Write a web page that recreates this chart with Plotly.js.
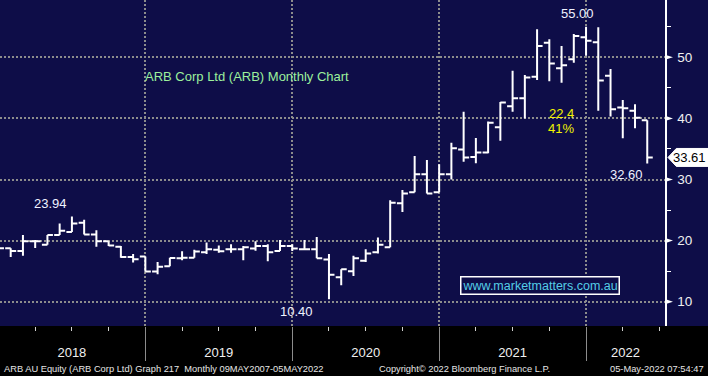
<!DOCTYPE html>
<html><head><meta charset="utf-8">
<script src="https://cdn.plot.ly/plotly-3.0.1.min.js"></script>
<style>html,body{margin:0;padding:0;background:#000;}#chart{width:708px;height:376px;}</style>
</head><body><div id="chart"></div>
<script>
// Monthly bars, Dec 2017 .. May 2022
const months = ['2017-12',
  '2018-01','2018-02','2018-03','2018-04','2018-05','2018-06','2018-07','2018-08','2018-09','2018-10','2018-11','2018-12',
  '2019-01','2019-02','2019-03','2019-04','2019-05','2019-06','2019-07','2019-08','2019-09','2019-10','2019-11','2019-12',
  '2020-01','2020-02','2020-03','2020-04','2020-05','2020-06','2020-07','2020-08','2020-09','2020-10','2020-11','2020-12',
  '2021-01','2021-02','2021-03','2021-04','2021-05','2021-06','2021-07','2021-08','2021-09','2021-10','2021-11','2021-12',
  '2022-01','2022-02','2022-03','2022-04','2022-05'];
const openP  = [18.5,
  18.74,18.3,19.9,19.3,20.9,21.4,22.9,21.0,19.9,19.0,17.3,17.4,
  14.95,15.8,17.1,17.2,18.1,18.5,18.6,18.6,18.7,19.1,18.3,19.1,
  18.6,18.6,16.9,14.0,15.0,16.7,18.1,18.9,26.1,27.9,30.85,27.9,
  30.85,34.9,33.7,34.4,38.55,42.0,43.3,46.8,52.4,48.2,49.7,53.3,
  52.45,47.0,41.8,41.25,39.7];
const highP  = [19.2,
  18.74,20.9,20.1,20.9,22.8,23.94,23.4,21.7,19.9,19.1,17.8,17.4,
  16.5,17.2,18.25,18.5,19.7,19.2,19.4,19.1,19.9,19.4,20.1,19.4,
  20.1,20.6,17.8,15.3,17.5,18.6,20.5,26.6,28.3,33.85,33.2,32.5,
  36.0,41.1,36.8,39.5,42.7,47.8,47.1,54.6,52.95,51.85,53.8,55.0,
  54.9,48.1,43.0,42.3,39.7];
const lowP   = [18.0,
  17.3,17.5,18.8,19.3,20.9,21.4,21.0,19.0,19.1,17.2,16.4,14.9,
  14.5,15.8,16.8,17.2,17.8,18.0,18.0,16.8,18.35,16.6,18.3,18.3,
  18.6,17.1,10.4,12.7,14.2,16.5,17.9,18.9,24.7,27.9,27.7,27.9,
  30.0,32.9,32.65,34.3,36.35,41.1,40.0,46.3,46.1,45.85,49.1,50.25,
  41.25,40.3,36.75,38.4,32.6];
const closeP = [18.74,
  18.3,19.9,19.9,20.9,21.6,22.8,21.0,19.9,19.2,17.3,16.95,14.95,
  15.7,17.15,17.2,18.2,18.6,18.25,18.6,18.9,19.1,18.1,19.1,18.7,
  18.6,17.1,14.4,15.3,17.1,17.9,19.3,26.2,27.7,30.85,27.7,30.85,
  35.1,33.6,34.4,39.3,42.6,43.3,46.7,51.85,49.0,48.7,53.5,52.7,
  46.2,41.5,41.65,40.1,33.61];

const yTickVals   = [10, 20, 30, 40, 50];
const yTickText   = ['10', '20', '30', '40', '50'];
const yMinorVals  = [15, 25, 35, 45, 55];
const lastPrice   = 33.61;

const FONT = '"Liberation Sans", Arial, sans-serif';
const NAVY = '#0e0d48';
const GRID = '#8c8c8c';

const base = months.indexOf('2018-01');
const xIdx = months.map((m, i) => i - base);
const xRange = [-0.874, 53.45];

// year dividers at December bars, labels centred in each year span
const dividers = xIdx.filter((v, i) => months[i].endsWith('-12') && v >= 0);
const bounds = [xRange[0] - 0.13].concat(dividers, [xRange[1]]);
const years = [...new Set(months.slice(base).map(m => m.slice(0, 4)))];
const yearPos = years.map((y, k) => (bounds[k] + bounds[k + 1]) / 2);
const quarterTicks = xIdx.filter((v, i) => /-(03|06|09)$/.test(months[i]));
quarterTicks.push(53); // Jun 2022 position at the right edge

const traces = [{
  type: 'ohlc', x: xIdx, open: openP, high: highP, low: lowP, close: closeP,
  increasing: {line: {color: '#ffffff', width: 2}},
  decreasing: {line: {color: '#ffffff', width: 2}},
  tickwidth: 0.45, hoverinfo: 'skip', showlegend: false
}, {
  type: 'scatter', x: [], y: [], xaxis: 'x2', yaxis: 'y', hoverinfo: 'skip', showlegend: false
}];

const shapes = [
  {type: 'rect', xref: 'paper', yref: 'paper', x0: 1, x1: 1.08, y0: 0, y1: 1, fillcolor: NAVY, line: {width: 0}, layer: 'below'}
];
yTickVals.forEach(v => shapes.push({
  type: 'path', xref: 'paper', yref: 'y',
  path: `M 1.0,${v - 0.42} L 1.012,${v} L 1.0,${v + 0.42} Z`,
  fillcolor: '#ffffff', line: {width: 0}
}));
const hh = 1.47;
shapes.push({
  type: 'path', xref: 'paper', yref: 'y',
  path: `M 1.0045,${lastPrice} L 1.017,${lastPrice + hh} L 1.07,${lastPrice + hh} L 1.07,${lastPrice - hh} L 1.017,${lastPrice - hh} Z`,
  fillcolor: '#ffffff', line: {color: '#ffffff', width: 1}
});

const txtC = '#eef2ff';
const footY = -0.1304;
const annotations = [
  {xref: 'x', yref: 'y', x: 19.3, y: 46.86, text: 'ARB Corp Ltd (ARB) Monthly Chart', showarrow: false,
   font: {family: FONT, size: 13, color: '#9cf09c'}},
  {xref: 'x', yref: 'y', x: 3.29, y: 26.0, text: '23.94', showarrow: false, font: {family: FONT, size: 13, color: txtC}},
  {xref: 'x', yref: 'y', x: 23.31, y: 8.33, text: '10.40', showarrow: false, font: {family: FONT, size: 13, color: txtC}},
  {xref: 'x', yref: 'y', x: 46.27, y: 57.09, text: '55.00', showarrow: false, font: {family: FONT, size: 13, color: txtC}},
  {xref: 'x', yref: 'y', x: 50.27, y: 30.9, text: '32.60', showarrow: false, font: {family: FONT, size: 13, color: txtC}},
  {xref: 'x', yref: 'y', x: 44.96, y: 40.88, text: '22.4', showarrow: false, font: {family: FONT, size: 13, color: '#f2f200'}},
  {xref: 'x', yref: 'y', x: 44.96, y: 38.27, text: '41%', showarrow: false, font: {family: FONT, size: 13, color: '#f2f200'}},
  {xref: 'x', yref: 'y', x: 43.24, y: 12.73, text: 'www.marketmatters.com.au', showarrow: false,
   font: {family: FONT, size: 12.5, color: '#54cde6'}, bordercolor: '#ffffff', borderwidth: 1.5, borderpad: 1, bgcolor: NAVY},
  {xref: 'paper', yref: 'y', x: 1.0368, y: lastPrice, xanchor: 'center', yanchor: 'middle', text: lastPrice.toFixed(2), showarrow: false,
   font: {family: FONT, size: 13, color: '#000000'}},
  {xref: 'paper', yref: 'paper', x: 0.003, y: footY, xanchor: 'left', yanchor: 'middle',
   text: 'ARB AU Equity (ARB Corp Ltd) Graph 217  Monthly 09MAY2007-05MAY2022',
   showarrow: false, font: {family: FONT, size: 9.3, color: '#e6e6e6'}},
  {xref: 'paper', yref: 'paper', x: 0.6985, y: footY, xanchor: 'center', yanchor: 'middle',
   text: 'Copyright© 2022 Bloomberg Finance L.P.',
   showarrow: false, font: {family: FONT, size: 9.3, color: '#e6e6e6'}},
  {xref: 'paper', yref: 'paper', x: 1.0617, y: footY, xanchor: 'right', yanchor: 'middle',
   text: '05-May-2022 07:54:47',
   showarrow: false, font: {family: FONT, size: 9.3, color: '#e6e6e6'}}
];

const layout = {
  width: 708, height: 376,
  margin: {l: 0, r: 43, t: 0, b: 50, pad: 0},
  paper_bgcolor: '#000000', plot_bgcolor: NAVY,
  showlegend: false, dragmode: false,
  xaxis: {
    range: xRange, fixedrange: true, rangeslider: {visible: false},
    tickmode: 'array', tickvals: yearPos, ticktext: years, ticks: '',
    tickfont: {family: FONT, size: 13, color: '#f0f0f0'}, ticklabelstandoff: 17,
    showgrid: false, zeroline: false, showline: false,
    minor: {tickmode: 'array', tickvals: dividers, ticks: 'outside', ticklen: 34, tickwidth: 1, tickcolor: GRID,
            showgrid: true, gridcolor: GRID, gridwidth: 2, griddash: '2px,2px'}
  },
  xaxis2: {
    overlaying: 'x', anchor: 'y', side: 'bottom', range: xRange, fixedrange: true,
    tickmode: 'array', tickvals: quarterTicks, ticks: 'outside', ticklen: 4, tickwidth: 1, tickcolor: '#d0d0d0',
    showticklabels: false, showgrid: false, zeroline: false, showline: false
  },
  yaxis: {
    side: 'right', range: [6.02, 59.38], fixedrange: true,
    tickmode: 'array', tickvals: yTickVals, ticktext: yTickText, ticks: '',
    tickfont: {family: FONT, size: 13.5, color: '#f0f0f0'}, ticklabelstandoff: 8,
    showgrid: true, gridcolor: GRID, gridwidth: 2, griddash: '2px,2px',
    zeroline: false, showline: true, linecolor: '#ffffff', linewidth: 1.5,
    minor: {tickmode: 'array', tickvals: yMinorVals, ticks: 'outside', ticklen: 4, tickwidth: 1, tickcolor: '#ffffff', showgrid: false}
  },
  shapes: shapes,
  annotations: annotations
};

Plotly.newPlot('chart', traces, layout, {staticPlot: true, displayModeBar: false});
</script></body></html>
